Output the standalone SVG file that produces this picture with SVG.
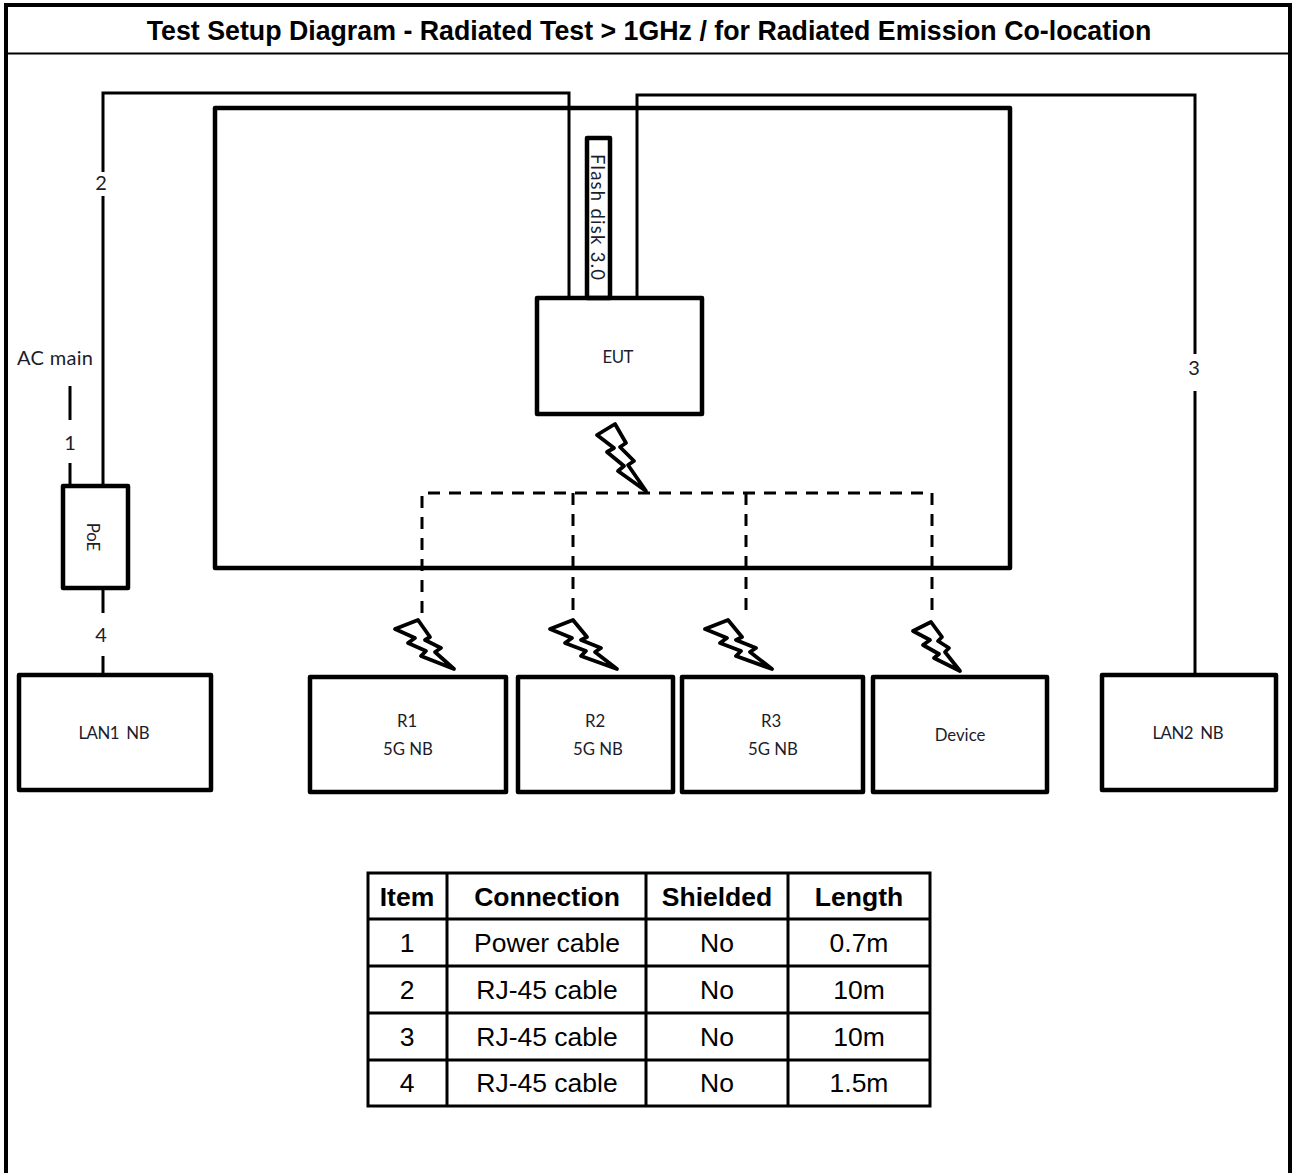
<svg xmlns="http://www.w3.org/2000/svg" width="1292" height="1173" viewBox="0 0 1292 1173">
<style>
.box{fill:none;stroke:#000;stroke-width:4.5;stroke-linejoin:round}
.wire{fill:none;stroke:#000;stroke-width:3}
.dash{fill:none;stroke:#000;stroke-width:3;stroke-dasharray:12 9}
.bolt{fill:none;stroke:#000;stroke-width:3.8;stroke-linejoin:round}
.lbl{font-family:Lato,"Open Sans",sans-serif;font-size:16.8px;fill:#1c1c2a;text-anchor:middle}
.num{font-size:20px}
.th{font-family:"Liberation Sans",Arial,sans-serif;font-size:26.5px;font-weight:bold;text-anchor:middle;fill:#000}
.c{font-family:"Liberation Sans",Arial,sans-serif;font-size:26.5px;text-anchor:middle;fill:#000}
.g{fill:none;stroke:#000;stroke-width:3}
</style>
<rect width="1292" height="1173" fill="#fff"/>
<g id="frame">
<path d="M6,1173V5H1290V1173" fill="none" stroke="#000" stroke-width="4"/>
<line x1="6" y1="53.500" x2="1290" y2="53.500" stroke="#000" stroke-width="2"/>
<text x="649" y="40" font-family="Liberation Sans,Arial,sans-serif" font-size="26.75" font-weight="bold" text-anchor="middle">Test Setup Diagram - Radiated Test &gt; 1GHz / for Radiated Emission Co-location</text>
</g>
<g id="connectors">
<path class="wire" d="M103,486V196M103,172V93H569V298"/>
<path class="wire" d="M637,298V95H1195V354M1195,391V675"/>
<path class="wire" d="M70,386V420M70,463V486"/>
<path class="wire" d="M103,589V613M103,656V675"/>
<path class="dash" d="M422,613V493H932V615"/>
<path class="dash" d="M573,493V621"/>
<path class="dash" d="M746,493V615"/>
</g>
<g id="chamber"><rect class="box" x="215" y="108" width="795" height="460"/></g>
<g id="flash"><rect class="box" x="587" y="138" width="23" height="160" fill="#fff"/>
<text class="lbl" transform="translate(591,154) rotate(90)" style="text-anchor:start;font-size:18.5px" textLength="126">Flash disk 3.0</text></g>
<g id="eut"><rect class="box" x="537" y="298" width="165" height="116"/><text class="lbl" x="618" y="363" textLength="31">EUT</text></g>
<g id="poe"><rect class="box" x="63" y="486" width="65" height="102"/><text class="lbl" transform="translate(87,537) rotate(90)">PoE</text></g>
<g id="ac-main"><text class="lbl" x="55" y="365" style="font-size:20px" textLength="76">AC main</text></g>
<g id="labels">
<text class="lbl num" x="101" y="190">2</text>
<text class="lbl num" x="70" y="450">1</text>
<text class="lbl num" x="1194" y="375">3</text>
<text class="lbl num" x="101" y="642">4</text>
</g>
<g id="bolts">
<path class="bolt" d="M597,435L615,424L626,443L620,447L634,461L628,465L646,491L618,471L624,466L607,452L614,448Z"/>
<path class="bolt" d="M395,629L418,620L430,637L425,640L441,648L435,652L454,669L421,656L426,651L408,643L415,638Z"/>
<path class="bolt" d="M550,629L573,620L587,637L581,640L601,648L595,652L617,669L581,656L586,651L565,643L572,638Z"/>
<path class="bolt" d="M705,629L728,620L742,637L736,640L756,648L750,652L772,669L736,656L741,651L720,643L727,638Z"/>
<path class="bolt" d="M913,631L931,622L942,637L938,641L949,648L945,652L960,671L934,658L939,654L923,645L930,640Z"/>
</g>
<g id="lan1"><rect class="box" x="19" y="675" width="192" height="115"/><text class="lbl" x="114" y="739" xml:space="preserve" textLength="71">LAN1  NB</text></g>
<g id="r1"><rect class="box" x="310" y="677" width="196" height="115"/><text class="lbl" x="407" y="727">R1</text><text class="lbl" x="408" y="755">5G NB</text></g>
<g id="r2"><rect class="box" x="518" y="677" width="155" height="115"/><text class="lbl" x="595" y="727">R2</text><text class="lbl" x="598" y="755">5G NB</text></g>
<g id="r3"><rect class="box" x="682" y="677" width="181" height="115"/><text class="lbl" x="771" y="727">R3</text><text class="lbl" x="773" y="755">5G NB</text></g>
<g id="device"><rect class="box" x="873" y="677" width="174" height="115"/><text class="lbl" x="960" y="741">Device</text></g>
<g id="lan2"><rect class="box" x="1102" y="675" width="174" height="115"/><text class="lbl" x="1188" y="739" xml:space="preserve" textLength="71">LAN2  NB</text></g>
<g id="table">
<path class="g" d="M368,873H930V1106H368ZM447,873V1106M646,873V1106M788,873V1106M368,919H930M368,966H930M368,1013H930M368,1060H930"/>
<text class="th" x="407" y="906">Item</text><text class="th" x="547" y="906">Connection</text><text class="th" x="717" y="906">Shielded</text><text class="th" x="859" y="906">Length</text>
<text class="c" x="407" y="952">1</text><text class="c" x="547" y="952">Power cable</text><text class="c" x="717" y="952">No</text><text class="c" x="859" y="952">0.7m</text>
<text class="c" x="407" y="999">2</text><text class="c" x="547" y="999">RJ-45 cable</text><text class="c" x="717" y="999">No</text><text class="c" x="859" y="999">10m</text>
<text class="c" x="407" y="1046">3</text><text class="c" x="547" y="1046">RJ-45 cable</text><text class="c" x="717" y="1046">No</text><text class="c" x="859" y="1046">10m</text>
<text class="c" x="407" y="1092">4</text><text class="c" x="547" y="1092">RJ-45 cable</text><text class="c" x="717" y="1092">No</text><text class="c" x="859" y="1092">1.5m</text>
</g>
</svg>
